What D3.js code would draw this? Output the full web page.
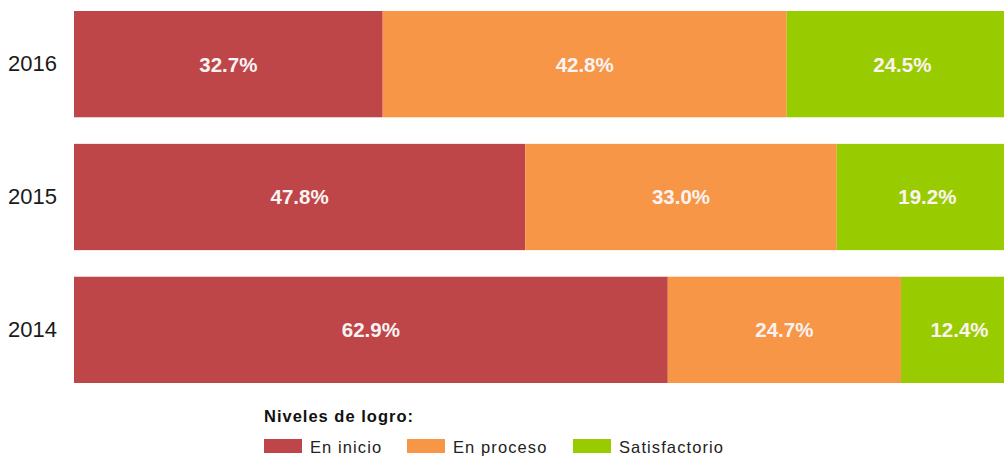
<!DOCTYPE html>
<html>
<head>
<meta charset="utf-8">
<script src="https://cdn.jsdelivr.net/npm/d3@7"></script>
<style>
  html, body { margin: 0; padding: 0; background: #fff; }
  svg { display: block; font-family: "Liberation Sans", Arial, sans-serif; }
</style>
</head>
<body>
<svg id="chart" width="1004" height="457"></svg>
<script>
// data
const years = ["2016", "2015", "2014"];
const levels = ["En inicio", "En proceso", "Satisfactorio"];
const enInicio = [32.7, 47.8, 62.9];
const enProceso = [42.8, 33.0, 24.7];
const satisfactorio = [24.5, 19.2, 12.4];
const levelColors = ["#be4648", "#f79646", "#99cc00"];

const rows = years.map((y, i) => ({
  year: y,
  values: [enInicio[i], enProceso[i], satisfactorio[i]]
}));

const svg = d3.select("#chart");
const margin = { top: 11, left: 74 };
const plotW = 944;   // right end runs past the window, as in the original
const plotH = 372;

const g = svg.append("g")
  .attr("transform", `translate(${margin.left},${margin.top})`);

const x = d3.scaleLinear().domain([0, 100]).range([0, plotW]);
const y = d3.scaleBand()
  .domain(years)
  .range([0, plotH])
  .paddingInner(0.2)
  .paddingOuter(0);
const color = d3.scaleOrdinal().domain(levels).range(levelColors);

// stacked segments
const segs = [];
rows.forEach(r => {
  let acc = 0;
  r.values.forEach((v, j) => {
    segs.push({ year: r.year, level: levels[j], x0: acc, x1: acc + v, value: v });
    acc += v;
  });
});

g.selectAll("rect.seg")
  .data(segs)
  .enter()
  .append("rect")
  .attr("class", "seg")
  .attr("x", d => x(d.x0))
  .attr("y", d => y(d.year))
  .attr("width", d => x(d.x1) - x(d.x0))
  .attr("height", y.bandwidth())
  .attr("fill", d => color(d.level));

g.selectAll("text.val")
  .data(segs)
  .enter()
  .append("text")
  .attr("class", "val")
  .attr("x", d => x((d.x0 + d.x1) / 2))
  .attr("y", d => y(d.year) + y.bandwidth() / 2)
  .attr("dy", "0.36em")
  .attr("text-anchor", "middle")
  .style("font-size", "20.5px")
  .style("font-weight", "bold")
  .style("fill", "#fbf3f3")
  .text(d => d.value.toFixed(1) + "%");

// y axis
const yAxis = g.append("g")
  .call(d3.axisLeft(y).tickSize(0).tickPadding(17));
yAxis.select(".domain").remove();
yAxis.selectAll("text")
  .style("font-size", "22px")
  .style("font-family", "'Liberation Sans', Arial, sans-serif")
  .style("fill", "#1a1a1a");

// legend
const legend = svg.append("g").attr("transform", "translate(264,0)");
legend.append("text")
  .attr("x", 0)
  .attr("y", 422)
  .style("font-size", "16.5px")
  .style("font-weight", "bold")
  .style("letter-spacing", "1px")
  .style("fill", "#111")
  .text("Niveles de logro:");

const legendX = [0, 143, 309];
const items = legend.selectAll("g.item")
  .data(levels)
  .enter()
  .append("g")
  .attr("class", "item")
  .attr("transform", (d, i) => `translate(${legendX[i]},439)`);
items.append("rect")
  .attr("width", 38)
  .attr("height", 14)
  .attr("fill", d => color(d));
items.append("text")
  .attr("x", 46)
  .attr("y", 14)
  .style("font-size", "16.5px")
  .style("letter-spacing", "1.1px")
  .style("fill", "#222")
  .text(d => d);
</script>
</body>
</html>
